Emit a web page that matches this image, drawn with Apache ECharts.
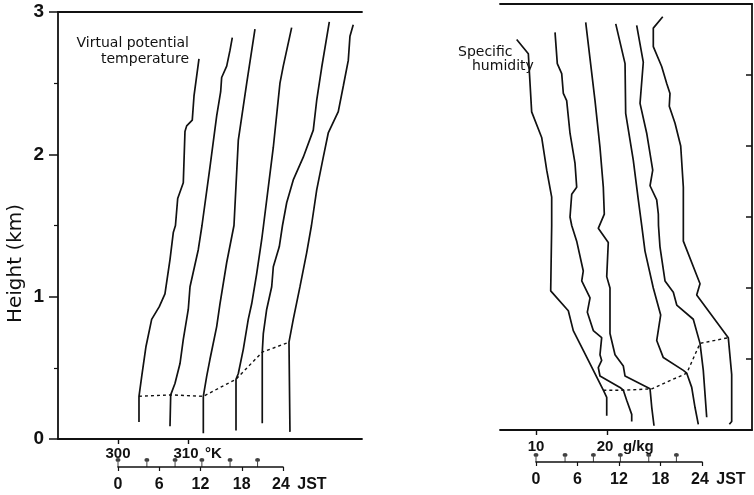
<!DOCTYPE html>
<html><head><meta charset="utf-8">
<script src="https://cdn.jsdelivr.net/npm/echarts@6/dist/echarts.min.js"></script>
<style>html,body{margin:0;padding:0;background:#fff}#c{width:754px;height:495px}</style>
</head><body><div id="c"></div>
<script>
// ---- Virtual potential temperature profiles (plotted K, height km), each offset by sounding time ----
const theta1 = [[303.0,0.12],[303.0,0.30],[303.39,0.44],[304.0,0.65],[304.81,0.84],[305.9,0.93],[306.71,1.02],[307.43,1.26],[307.9,1.45],[308.21,1.50],[308.53,1.69],[309.33,1.80],[309.57,2.16],[309.81,2.20],[310.61,2.24],[310.86,2.41],[311.57,2.67]];
const theta2 = [[307.43,0.09],[307.53,0.31],[308.14,0.39],[308.86,0.53],[309.33,0.70],[310.04,0.91],[310.29,1.07],[311.47,1.33],[312.0,1.50],[313.14,1.91],[314.1,2.27],[314.67,2.44],[314.81,2.54],[315.53,2.62],[316.0,2.73],[316.33,2.82]];
const theta3 = [[312.19,0.04],[312.19,0.30],[312.67,0.44],[313.14,0.56],[314.1,0.79],[314.57,0.95],[315.53,1.24],[316.57,1.50],[317.19,2.10],[318.39,2.50],[319.57,2.88]];
const theta4 = [[316.86,0.06],[316.86,0.42],[317.19,0.46],[317.9,0.63],[318.61,0.84],[319.1,0.95],[319.81,1.16],[320.53,1.40],[320.79,1.50],[322.19,2.05],[323.14,2.50],[323.61,2.62],[324.81,2.89]];
const theta5 = [[320.61,0.11],[320.61,0.61],[320.76,0.74],[321.24,0.91],[321.96,1.07],[322.19,1.21],[323.04,1.35],[323.5,1.50],[324.1,1.66],[325.04,1.82],[326.47,1.98],[327.9,2.17],[328.39,2.38],[329.1,2.61],[330.19,2.93]];
const theta6 = [[324.57,0.05],[324.43,0.68],[325.04,0.84],[326.0,1.07],[326.96,1.31],[327.64,1.50],[328.39,1.75],[329.33,1.98],[330.04,2.15],[331.47,2.30],[332.19,2.48],[332.9,2.66],[333.14,2.83],[333.61,2.91]];
const thetaMixTop = [[303.0,0.30],[307.53,0.31],[312.19,0.30],[316.86,0.42],[320.61,0.61],[324.43,0.68]];

// ---- Specific humidity profiles (plotted g/kg, height km) ----
const q1 = [[19.96,0.10],[19.96,0.23],[19.48,0.28],[16.66,0.56],[15.25,0.70],[14.55,0.84],[12.07,0.98],[12.21,1.44],[12.21,1.64],[11.51,1.83],[10.80,2.06],[9.39,2.24],[8.92,2.65],[7.28,2.75]];
const q2 = [[23.48,0.06],[23.48,0.11],[22.77,0.21],[22.30,0.28],[21.83,0.30],[19.01,0.38],[18.77,0.44],[19.25,0.49],[19.01,0.53],[19.25,0.65],[18.07,0.70],[17.23,0.83],[17.61,0.93],[16.44,1.05],[16.66,1.12],[15.73,1.33],[15.03,1.44],[14.79,1.50],[15.03,1.66],[15.73,1.71],[15.49,1.88],[14.79,2.09],[14.32,2.32],[13.85,2.37],[13.62,2.51],[13.0,2.58],[12.68,2.80]];
const q3 = [[26.62,0.03],[26.30,0.16],[26.06,0.29],[25.82,0.30],[22.54,0.38],[22.30,0.45],[21.13,0.53],[20.42,0.68],[20.42,1.00],[19.96,1.08],[20.18,1.32],[18.77,1.42],[19.62,1.52],[19.48,1.71],[19.01,1.99],[18.31,2.32],[17.0,2.87]];
const q4 = [[32.86,0.04],[32.39,0.16],[31.93,0.30],[31.23,0.40],[30.75,0.42],[27.93,0.51],[27.0,0.63],[27.56,0.81],[26.52,1.00],[25.35,1.26],[24.89,1.44],[24.41,1.62],[23.70,1.90],[22.63,2.23],[22.54,2.58],[21.23,2.86]];
const q5 = [[34.04,0.09],[33.56,0.42],[33.10,0.61],[32.15,0.78],[29.82,0.88],[29.34,0.97],[28.17,1.05],[27.46,1.29],[27.25,1.44],[27.23,1.52],[27.0,1.62],[26.06,1.72],[26.44,1.83],[25.59,2.09],[24.65,2.30],[25.11,2.59],[24.18,2.85]];
const q6 = [[37.23,0.04],[37.56,0.06],[37.56,0.39],[37.08,0.65],[32.63,0.95],[33.10,1.03],[30.75,1.33],[30.75,1.71],[30.38,2.00],[29.58,2.16],[28.77,2.28],[28.87,2.37],[28.41,2.44],[27.70,2.56],[26.52,2.70],[26.52,2.83],[27.85,2.91]];
const qMixTop = [[19.48,0.28],[22.30,0.28],[26.30,0.29],[31.23,0.40],[33.10,0.61],[37.08,0.65]];

// ---- sounding times (JST, h) and tick labels ----
const soundingTimes = [0, 4.2, 8.3, 12.2, 16.3, 20.3];
const heightTicks = [0, 1, 2, 3];
const thetaLabels = [300, 310];
const qLabels = [10, 20];
const jstLabels = [0, 6, 12, 18, 24];

const INK = '#111';
const FONT = 'DejaVu Sans';
const NUMFONT = '"Liberation Sans Narrow", "Liberation Sans", sans-serif';

const chart = echarts.init(document.getElementById('c'));

function profile(data, xi, yi) {
  return { type: 'line', data: data, xAxisIndex: xi, yAxisIndex: yi, showSymbol: false, silent: true,
    lineStyle: { color: INK, width: 1.7 }, z: 3, animation: false };
}
function dotted(data, xi, yi) {
  return { type: 'line', data: data, xAxisIndex: xi, yAxisIndex: yi, showSymbol: false, silent: true,
    lineStyle: { color: INK, width: 1.4, type: [3, 3] }, z: 2, animation: false };
}
const pin = 'path://M2.5,0 A2.5,2.5 0 1,1 2.5,5 A2.5,2.5 0 1,1 2.5,0 Z M2,4 L3,4 L3,12 L2,12 Z';
function marks(xi, yi) {
  return { type: 'scatter', xAxisIndex: xi, yAxisIndex: yi, data: soundingTimes.map(t => [t, 0]),
    symbol: pin, symbolSize: [5, 9], symbolOffset: [0, -4.5], itemStyle: { color: INK }, silent: true, animation: false };
}
function unitLabel(unitW, size) {
  const base = { fontSize: size, fontFamily: NUMFONT, fontWeight: 'bold', color: INK };
  return {
    p: Object.assign({ width: unitW }, base),
    a: Object.assign({}, base),
    b: Object.assign({ width: unitW, align: 'left', padding: [0, 0, 0, 4] }, base)
  };
}
const axLine = { color: INK, width: 1.8 };

const option = {
  backgroundColor: '#fff',
  animation: false,
  grid: [
    { left: 58, top: 12, width: 304, height: 427 },
    { left: 500, top: 4, width: 252, height: 426 },
    { left: 118, top: 459, width: 165, height: 8 },
    { left: 536, top: 454, width: 166, height: 8 }
  ],
  xAxis: [
    { gridIndex: 0, type: 'value', min: 291.43, max: 334.86, position: 'bottom',
      axisLine: { show: true, onZero: false, lineStyle: axLine },
      axisTick: { show: true, customValues: thetaLabels, length: 5, lineStyle: { color: INK, width: 1.4 } },
      axisLabel: { customValues: thetaLabels, margin: 7, rich: unitLabel(22, 15),
        formatter: v => v === 310 ? '{p|}{a|310}{b|°K}' : '{a|' + v + '}' },
      splitLine: { show: false } },
    { gridIndex: 0, type: 'value', min: 0, max: 1, position: 'top',
      axisLine: { show: true, onZero: false, lineStyle: axLine },
      axisTick: { show: false }, axisLabel: { show: false }, splitLine: { show: false } },
    { gridIndex: 1, type: 'value', min: 4.93, max: 40.42, position: 'bottom',
      axisLine: { show: true, onZero: false, lineStyle: axLine },
      axisTick: { show: true, customValues: qLabels, length: 5, lineStyle: { color: INK, width: 1.4 } },
      axisLabel: { customValues: qLabels, margin: 9, rich: unitLabel(42, 15),
        formatter: v => v === 20 ? '{p|}{a|20}{b|g/kg}' : '{a|' + v + '}' },
      splitLine: { show: false } },
    { gridIndex: 1, type: 'value', min: 0, max: 1, position: 'top',
      axisLine: { show: true, onZero: false, lineStyle: axLine },
      axisTick: { show: false }, axisLabel: { show: false }, splitLine: { show: false } },
    { gridIndex: 2, type: 'value', min: 0, max: 24, interval: 6, position: 'bottom',
      axisLine: { show: true, onZero: false, lineStyle: { color: INK, width: 1.6 } },
      axisTick: { show: true, length: 4, lineStyle: { color: INK, width: 1.2 } },
      axisLabel: { customValues: jstLabels, margin: 10, rich: unitLabel(36, 16),
        formatter: v => v === 24 ? '{p|}{a|24}{b|JST}' : '{a|' + v + '}' },
      splitLine: { show: false } },
    { gridIndex: 3, type: 'value', min: 0, max: 24, interval: 6, position: 'bottom',
      axisLine: { show: true, onZero: false, lineStyle: { color: INK, width: 1.6 } },
      axisTick: { show: true, length: 4, lineStyle: { color: INK, width: 1.2 } },
      axisLabel: { customValues: jstLabels, margin: 10, rich: unitLabel(36, 16),
        formatter: v => v === 24 ? '{p|}{a|24}{b|JST}' : '{a|' + v + '}' },
      splitLine: { show: false } }
  ],
  yAxis: [
    { gridIndex: 0, type: 'value', min: 0, max: 3, interval: 1, position: 'left',
      axisLine: { show: true, onZero: false, lineStyle: axLine },
      axisTick: { show: true, length: 9, lineStyle: { color: INK, width: 1.5 } },
      minorTick: { show: true, splitNumber: 2, length: 4, lineStyle: { color: INK, width: 1.2 } },
      axisLabel: { customValues: heightTicks, margin: 14, fontSize: 19, fontWeight: 'bold', fontFamily: NUMFONT, color: INK },
      splitLine: { show: false }, minorSplitLine: { show: false },
      name: 'Height (km)', nameLocation: 'middle', nameGap: 32, nameRotate: 90,
      nameTextStyle: { fontSize: 20, fontFamily: FONT, color: INK, padding: [0, 76, 0, 0] } },
    { gridIndex: 1, type: 'value', min: 0, max: 3, interval: 0.5, position: 'right',
      axisLine: { show: true, onZero: false, lineStyle: axLine },
      axisTick: { show: true, inside: true, length: 6, lineStyle: { color: INK, width: 1.5 } },
      axisLabel: { show: false }, splitLine: { show: false } },
    { gridIndex: 2, type: 'value', min: 0, max: 1, show: false },
    { gridIndex: 3, type: 'value', min: 0, max: 1, show: false }
  ],
  graphic: [
    { type: 'text', silent: true, style: { text: 'Virtual potential\ntemperature', x: 189, y: 35, align: 'right',
      verticalAlign: 'top', fontSize: 14, lineHeight: 16, fontFamily: FONT, fill: INK } },
    { type: 'text', silent: true, style: { text: 'Specific', x: 458, y: 45, align: 'left',
      verticalAlign: 'top', fontSize: 14, fontFamily: FONT, fill: INK } },
    { type: 'text', silent: true, style: { text: 'humidity', x: 472, y: 59, align: 'left',
      verticalAlign: 'top', fontSize: 14, fontFamily: FONT, fill: INK } }
  ],
  series: [
    profile(theta1, 0, 0), profile(theta2, 0, 0), profile(theta3, 0, 0),
    profile(theta4, 0, 0), profile(theta5, 0, 0), profile(theta6, 0, 0),
    dotted(thetaMixTop, 0, 0),
    profile(q1, 2, 1), profile(q2, 2, 1), profile(q3, 2, 1),
    profile(q4, 2, 1), profile(q5, 2, 1), profile(q6, 2, 1),
    dotted(qMixTop, 2, 1),
    marks(4, 2), marks(5, 3)
  ]
};
chart.setOption(option);
</script></body></html>
